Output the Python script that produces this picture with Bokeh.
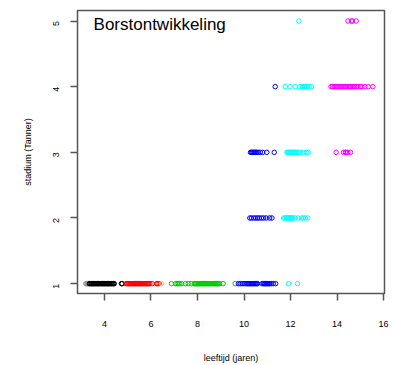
from bokeh.plotting import figure
from bokeh.models import ColumnDataSource, Label, FixedTicker
from bokeh.embed import file_html
from bokeh.resources import INLINE

# ---- data: ages (years) per Tanner stage, per colour group ----
gray_1 = [3.20, 3.24, 3.28, 3.31]
black_1 = [3.35, 3.38, 3.42, 3.45, 3.49, 3.52, 3.56, 3.60, 3.63, 3.67, 3.70, 3.74,
           3.77, 3.81, 3.85, 3.88, 3.92, 3.95, 3.99, 4.02, 4.06, 4.10, 4.13, 4.17,
           4.20, 4.24, 4.28, 4.31, 4.35, 4.39, 4.42, 4.73, 4.76]
red_1 = [4.93, 4.98, 5.02, 5.06, 5.10, 5.14, 5.18, 5.22, 5.26, 5.30, 5.34, 5.38,
         5.42, 5.46, 5.50, 5.54, 5.58, 5.62, 5.66, 5.70, 5.74, 5.78, 5.82, 5.86,
         5.90, 5.95, 6.05, 6.24, 6.29, 6.35]
yellow_1 = [6.45]
green_1 = [6.88, 7.05, 7.12, 7.18, 7.24, 7.32, 7.48, 7.60, 7.73, 7.86, 7.90, 7.94,
           7.98, 8.02, 8.06, 8.10, 8.14, 8.18, 8.22, 8.26, 8.30, 8.34, 8.38, 8.42,
           8.46, 8.50, 8.54, 8.58, 8.62, 8.66, 8.70, 8.74, 8.78, 8.82, 8.86, 8.90,
           8.95, 9.10, 9.62]
blue_1 = [9.76, 9.84, 9.92, 10.00, 10.08, 10.14, 10.18, 10.22, 10.26, 10.30, 10.34,
          10.38, 10.42, 10.46, 10.50, 10.54, 10.58, 10.78, 10.84, 10.88, 10.92,
          10.96, 11.00, 11.04, 11.08, 11.12, 11.18, 11.26, 11.36]
cyan_1 = [11.92, 12.30]

blue_2 = [10.25, 10.32, 10.42, 10.50, 10.58, 10.65, 10.75, 10.84, 10.95, 11.10, 11.20]
cyan_2 = [11.70, 11.76, 11.82, 11.86, 11.90, 11.94, 11.98, 12.02, 12.06, 12.10,
          12.20, 12.33, 12.48, 12.56, 12.64, 12.74]

blue_3 = [10.28, 10.32, 10.36, 10.40, 10.44, 10.48, 10.52, 10.56, 10.62, 10.70,
          10.80, 10.98, 11.30]
cyan_3 = [11.84, 11.88, 11.92, 11.96, 12.00, 12.04, 12.08, 12.12, 12.16, 12.20,
          12.24, 12.28, 12.34, 12.42, 12.55, 12.68, 12.76]
magenta_3 = [13.96, 14.28, 14.36, 14.40, 14.46, 14.58]

blue_4 = [11.34]
cyan_4 = [11.77, 11.98, 12.20, 12.40, 12.52, 12.56, 12.60, 12.64, 12.68, 12.80, 12.90]
magenta_4 = [13.74, 13.80, 13.86, 13.92, 13.98, 14.04, 14.08, 14.14, 14.20, 14.26,
             14.30, 14.36, 14.42, 14.48, 14.54, 14.58, 14.64, 14.70, 14.76, 14.82,
             14.90, 15.00, 15.06, 15.20, 15.34, 15.54]

cyan_5 = [12.36]
magenta_5 = [14.47, 14.62, 14.66, 14.82]

x_ticks = [4, 6, 8, 10, 12, 14, 16]
y_ticks = [1, 2, 3, 4, 5]

groups = [
    (gray_1, 1, "#8c8c8c"), (black_1, 1, "black"), (red_1, 1, "red"),
    (yellow_1, 1, "#FFD000"), (green_1, 1, "#00CD00"), (blue_1, 1, "blue"),
    (cyan_1, 1, "cyan"),
    (blue_2, 2, "blue"), (cyan_2, 2, "cyan"),
    (blue_3, 3, "blue"), (cyan_3, 3, "cyan"), (magenta_3, 3, "magenta"),
    (blue_4, 4, "blue"), (cyan_4, 4, "cyan"), (magenta_4, 4, "magenta"),
    (cyan_5, 5, "cyan"), (magenta_5, 5, "magenta"),
]

xs, ys, cs = [], [], []
for ages, stage, col in groups:
    for a in ages:
        xs.append(a)
        ys.append(stage)
        cs.append(col)
src = ColumnDataSource(dict(x=xs, y=ys, c=cs))

p = figure(width=393, height=365, output_backend="svg", toolbar_location=None,
           x_range=(2.84, 16.04), y_range=(0.85, 5.16),
           min_border_left=77, min_border_right=9, min_border_top=10,
           min_border_bottom=72)
p.background_fill_color = "white"
p.border_fill_color = "white"
p.outline_line_color = "#555555"
p.outline_line_width = 1.5
p.grid.visible = False

p.scatter("x", "y", source=src, marker="circle", size=4.5, fill_color=None,
          line_color="c", line_width=1)

font = "Liberation Sans"
for ax in (p.xaxis[0], p.yaxis[0]):
    ax.axis_line_color = None
    ax.major_tick_line_color = "#555555"
    ax.major_tick_line_width = 1.5
    ax.major_tick_out = 7
    ax.major_tick_in = 0
    ax.minor_tick_line_color = None
    ax.major_label_text_font = font
    ax.major_label_text_font_size = "9px"
    ax.major_label_text_color = "black"
    ax.axis_label_text_font = font
    ax.axis_label_text_font_size = "9px"
    ax.axis_label_text_font_style = "normal"
    ax.axis_label_text_color = "black"

p.xaxis.ticker = FixedTicker(ticks=x_ticks)
p.yaxis.ticker = FixedTicker(ticks=y_ticks)
p.xaxis.axis_label = "leeftijd (jaren)"
p.yaxis.axis_label = "stadium (Tanner)"
p.xaxis.major_label_standoff = 20
p.xaxis.axis_label_standoff = 23
p.yaxis.major_label_standoff = 14
p.yaxis.major_label_orientation = 1.5708
p.yaxis.axis_label_standoff = 15

title = Label(x=3.53, y=4.95, text="Borstontwikkeling", text_font=font,
              text_font_size="17px", text_baseline="alphabetic", text_color="black")
p.add_layout(title)

open("out.html", "w").write(file_html(p, INLINE))
